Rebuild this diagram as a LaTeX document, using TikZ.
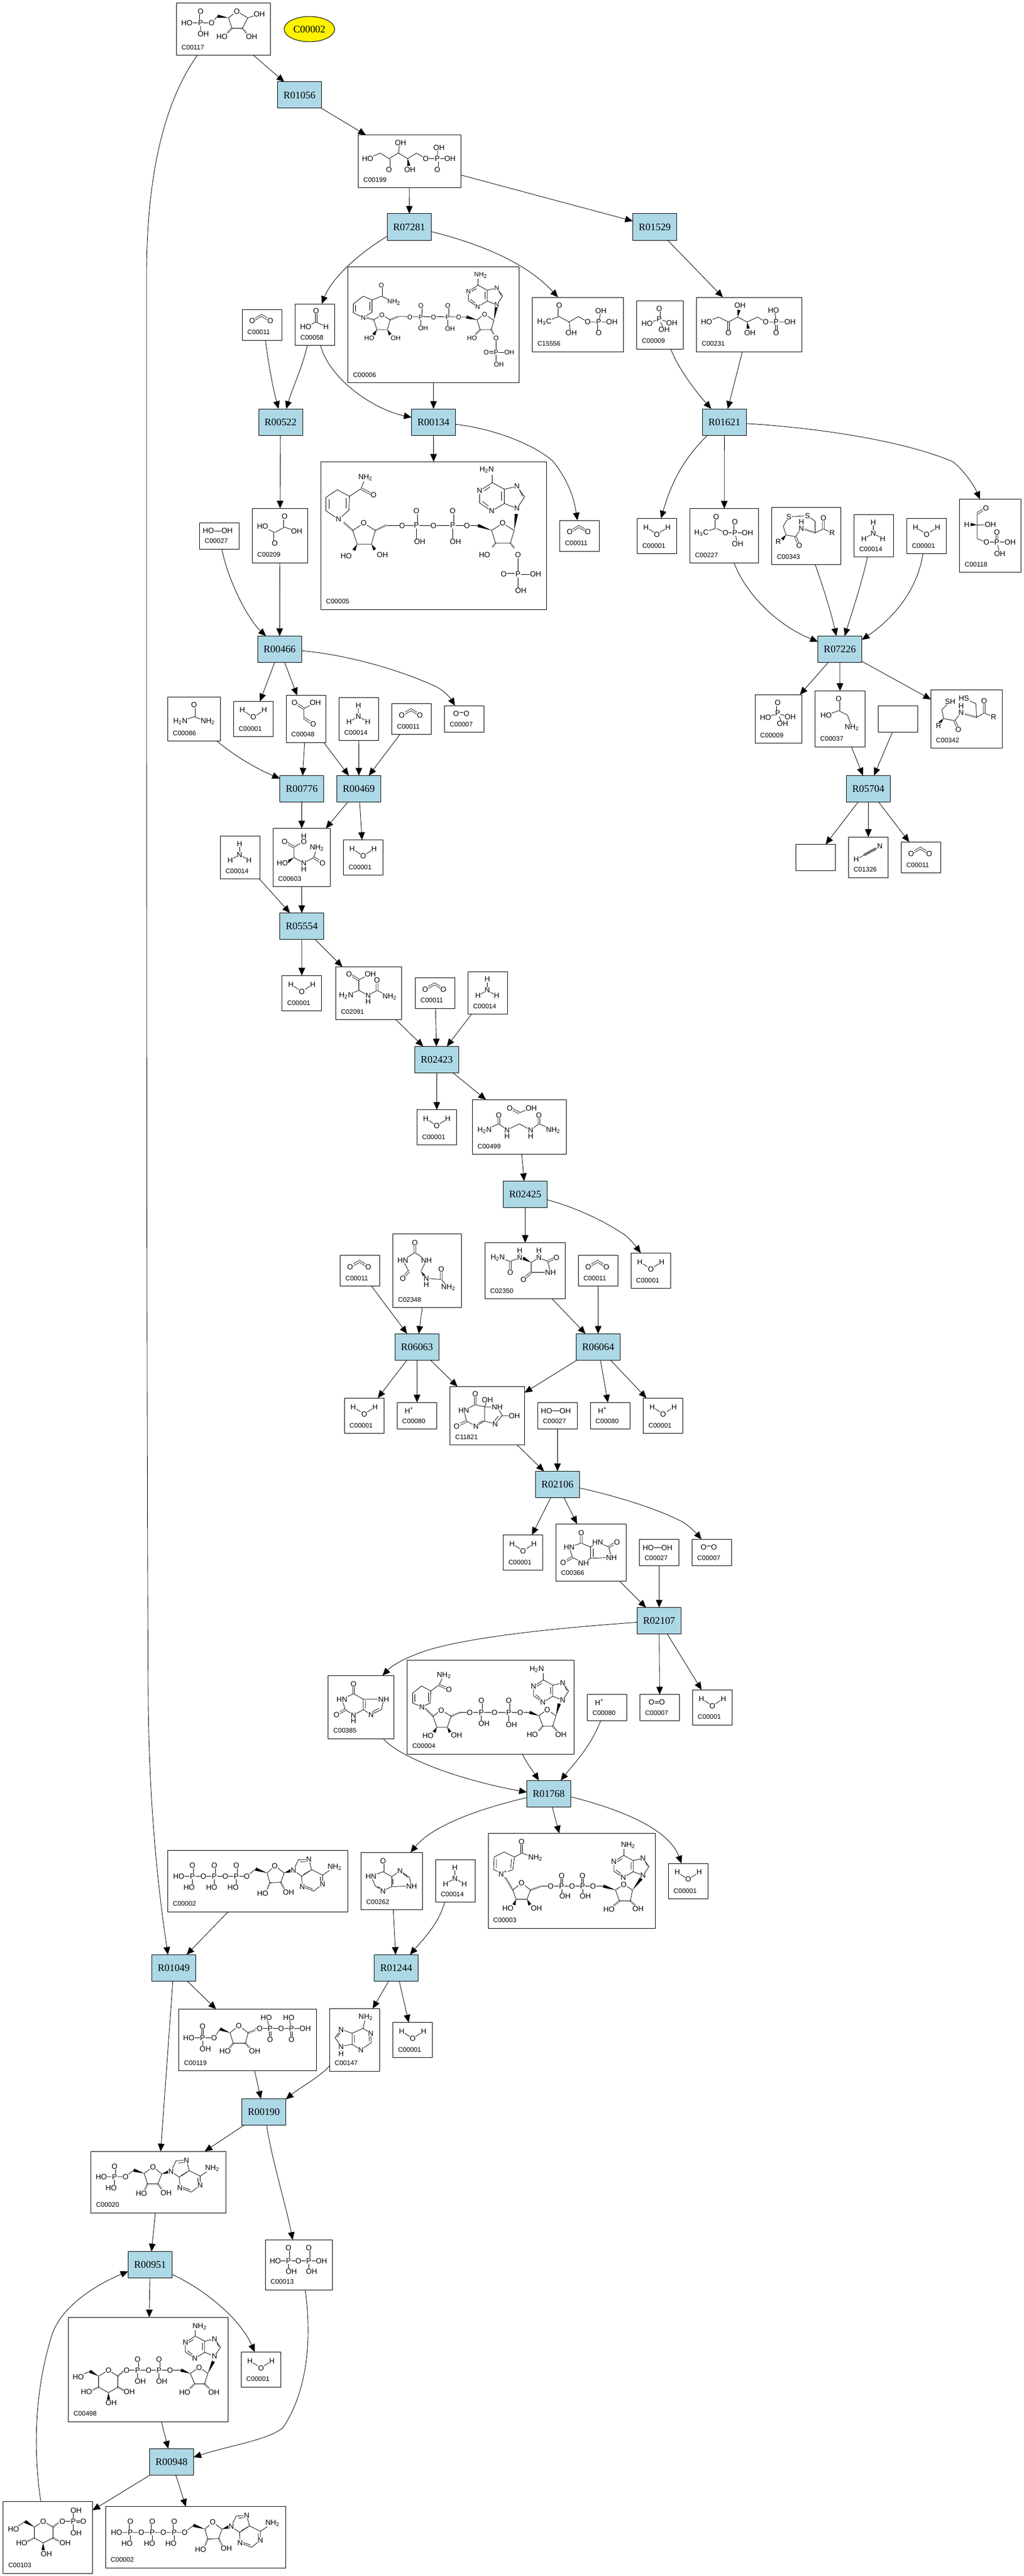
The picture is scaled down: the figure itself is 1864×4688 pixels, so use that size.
\documentclass[tikz,border=0pt]{standalone}
\usepackage{fontspec}
\setmainfont{Liberation Serif}
\setsansfont{Liberation Sans}
\usetikzlibrary{arrows.meta,shapes.geometric,calc}

\newcounter{atomno}
\newcommand{\atomsz}{6.8}
\tikzset{
	cpdbox/.style={draw,line width=.5pt,inner sep=0pt,outer sep=0pt},
	cname/.style={anchor=west,inner sep=0pt,font=\fontsize{6}{6}\selectfont\sffamily},
	rxnbox/.style={draw,fill=lightblue,line width=.5pt,inner sep=0pt,outer sep=0pt,minimum width=40pt,minimum height=24pt,font=\fontsize{9.2}{9.2}\selectfont\rmfamily},
	arr/.style={-{Triangle[length=7pt,width=6pt]},line width=.42pt},
	bond/.style={line width=.4pt},
	dbl/.style={double,double distance=1.2pt,line width=.4pt},
	hashb/.style={line width=1.6pt,dash pattern=on .35pt off .7pt},
	atom/.style={fill=white,inner sep=.3pt,font=\fontsize{\atomsz}{\atomsz}\selectfont\sffamily}
}
\definecolor{lightblue}{HTML}{ADD8E6}

% boxes, in pixels of the picture
\newcommand{\cpd}[6]{\node[cpdbox,minimum width={(#5-#3)*.5pt},minimum height={(#6-#4)*.5pt}] (#1) at ({(#3+#5)/2},{(#4+#6)/2}) {};
	\node[cname] (#1t) at (#3+9,#6-14.5) {#2};}
\newcommand{\blankcpd}[5]{\node[cpdbox,minimum width={(#4-#2)*.5pt},minimum height={(#5-#3)*.5pt}] (#1) at ({(#2+#4)/2},{(#3+#5)/2}) {};}
\newcommand{\rxn}[4]{\node[rxnbox] (#1) at (#3,#4) {#2};}
\newcommand{\mol}[2]{\begin{scope}[shift={(#1.north west)}]#2\end{scope}}

% pieces of a structure
\newcommand{\atm}[3]{\stepcounter{atomno}\node[atom] (at\theatomno) at (#1,#2) {#3};}
\newcommand{\wdg}[2]{\fill (#1) -- ($(#2)!1.5pt!90:(#1)$) -- ($(#2)!1.5pt!-90:(#1)$) -- cycle;}
\newcommand{\hsh}[2]{\draw[hashb] (#1) -- (#2);}
\newcommand{\pho}[6]{\draw[bond] (#1,#2)--(#1,#5); \draw[bond,dbl] (#1,#2)--(#1,#3); \atm{#4}{#5}{#6}\atm{#1}{#3}{O}\atm{#1}{#2}{P}}
\newcommand{\adenup}[3]{\begin{scope}[shift={(#1,#2)},scale=#3]
	\draw[bond] (0,0)--(-23,15)--(-23,37)--(-1,52)--(22,38)--(22,12)--cycle (22,12)--(45,7)--(59,26)--(45,47)--(22,38);
	\draw[bond] (-4,8)--(-15,15) (17,16)--(17,33) (-18,34)--(-7,43) (50,13)--(55,25);
	\atm{-23}{15}{N}\atm{-1}{52}{N}\atm{45}{7}{N}\atm{45}{47}{N}
	\end{scope}}
\newcommand{\adenside}[2]{\begin{scope}[shift={(#1,#2)}]
	\draw[bond] (0,0)--(9,-19)--(28,-20)--(33,-1)--(15,11)--cycle (33,-1)--(53,9)--(53,25)--(37,38)--(16,30)--(15,11) (53,9)--(75,-6);
	\draw[bond] (13,-15)--(25,-16) (18,8)--(30,1) (49,12)--(49,22) (21,29)--(35,34);
	\atm{0}{0}{N}\atm{28}{-20}{N}\atm{53}{25}{N}\atm{16}{30}{N}\atm{75}{-6}{NH\textsubscript{2}}
	\end{scope}}

% structures that come back
\newcommand{\molwater}{\draw[bond] (16,16)--(36,29)--(56,16); \atm{16}{16}{H}\atm{36}{29}{O}\atm{56}{16}{H}}
\newcommand{\molcotwo}{\draw[bond,dbl] (18,21)--(35,11)--(51,21); \atm{18}{21}{O}\atm{51}{21}{O}}
\newcommand{\molammonia}{\draw[bond] (35,14)--(35,34) (18,44)--(35,34)--(52,44); \atm{35}{14}{H}\atm{35}{34}{N}\atm{18}{44}{H}\atm{52}{44}{H}}
\newcommand{\molperox}{\draw[bond] (15,15)--(49,15); \atm{16}{15}{HO}\atm{50}{15}{OH}}
\newcommand{\moloxy}{\draw[bond,dbl] (21,14)--(40,14); \atm{21}{14}{O}\atm{40}{14}{O}}
\newcommand{\molproton}{\atm{22}{14}{H\textsuperscript{+}}}
\newcommand{\molphos}{\draw[bond] (19,42)--(41,34)--(64,41) (41,34)--(50,53); \draw[bond,dbl] (41,15)--(41,34);
	\atm{41}{15}{O}\atm{41}{34}{P}\atm{19}{42}{HO}\atm{64}{41}{OH}\atm{50}{53}{OH}}
\newcommand{\molatp}{\draw[bond] (20,47)--(144,47)--(160,34);
	\pho{45}{47}{27}{39}{67}{HO}\pho{85}{47}{27}{80}{67}{HO}\pho{125}{47}{27}{119}{67}{HO}
	\wdg{181,41}{160,34}
	\draw[bond] (195,28)--(181,41)--(186,59)--(206,58)--(212,41)--cycle;
	\wdg{212,41}{224,37}\hsh{186,59}{181,71}\hsh{206,58}{212,70}
	\atm{20}{47}{HO}\atm{65}{47}{O}\atm{105}{47}{O}\atm{144}{47}{O}\atm{195}{28}{O}\atm{173}{78}{HO}\atm{220}{76}{OH}
	\adenside{229}{36}}

\begin{document}
\begin{tikzpicture}[x=.5pt,y=-.5pt]
	\useasboundingbox (0,0) rectangle (1864,4688);

	% reactions
	\rxn{r01056}{R01056}{545.5}{173}
	\rxn{r07281}{R07281}{745.3}{413}
	\rxn{r01529}{R01529}{1192.5}{413}
	\rxn{r00522}{R00522}{511}{768}
	\rxn{r00134}{R00134}{789.5}{768}
	\rxn{r01621}{R01621}{1319.4}{768}
	\rxn{r00466}{R00466}{509.3}{1181.5}
	\rxn{r07226}{R07226}{1529.6}{1181.4}
	\rxn{r05704}{R05704}{1581.5}{1435.3}
	\rxn{r00776}{R00776}{549.7}{1435.5}
	\rxn{r00469}{R00469}{653.5}{1435.5}
	\rxn{r05554}{R05554}{549.7}{1685.5}
	\rxn{r02423}{R02423}{795.5}{1928.4}
	\rxn{r02425}{R02425}{956.6}{2173.4}
	\rxn{r06063}{R06063}{759.5}{2451.3}
	\rxn{r06064}{R06064}{1089.4}{2451.3}
	\rxn{r02106}{R02106}{1015.3}{2701.4}
	\rxn{r02107}{R02107}{1200.5}{2949.6}
	\rxn{r01768}{R01768}{999.5}{3264.3}
	\rxn{r01049}{R01049}{316.5}{3581.4}
	\rxn{r01244}{R01244}{721.7}{3581.4}
	\rxn{r00190}{R00190}{480.5}{3843.6}
	\rxn{r00951}{R00951}{273.5}{4121.3}
	\rxn{r00948}{R00948}{312.5}{4480.3}

	\node[ellipse,draw,fill=yellow,line width=.5pt,inner sep=0pt,minimum width=46pt,minimum height=23pt,font=\fontsize{9.2}{9.2}\selectfont\rmfamily] (c00002o) at (563.5,53) {C00002};

	% water
	\cpd{c00001a}{C00001}{1160.4}{943.4}{1232.6}{1007.6}
	\cpd{c00001b}{C00001}{1651.6}{943.4}{1723.8}{1007.6}
	\cpd{c00001c}{C00001}{425.4}{1276.3}{497.3}{1340.6}
	\cpd{c00001d}{C00001}{625.4}{1528.6}{697.3}{1592.4}
	\cpd{c00001e}{C00001}{513.7}{1775.4}{585.6}{1839.7}
	\cpd{c00001f}{C00001}{759.5}{2019.6}{831.4}{2083.5}
	\cpd{c00001g}{C00001}{1149.3}{2280.4}{1221.7}{2344.6}
	\cpd{c00001h}{C00001}{627.3}{2544.3}{699.3}{2608.6}
	\cpd{c00001i}{C00001}{1171.7}{2544.3}{1243.7}{2608.6}
	\cpd{c00001j}{C00001}{916.6}{2793.4}{988.6}{2857.7}
	\cpd{c00001k}{C00001}{1261.5}{3075.3}{1333.5}{3139.3}
	\cpd{c00001l}{C00001}{1217.5}{3391.2}{1289.5}{3455.5}
	\cpd{c00001m}{C00001}{715.6}{3680.6}{787.7}{3744.5}
	\cpd{c00001n}{C00001}{439.3}{4280.3}{511.6}{4344.3}
	\mol{c00001a}{\molwater}\mol{c00001b}{\molwater}\mol{c00001c}{\molwater}\mol{c00001d}{\molwater}
	\mol{c00001e}{\molwater}\mol{c00001f}{\molwater}\mol{c00001g}{\molwater}\mol{c00001h}{\molwater}
	\mol{c00001i}{\molwater}\mol{c00001j}{\molwater}\mol{c00001k}{\molwater}\mol{c00001l}{\molwater}
	\mol{c00001m}{\molwater}\mol{c00001n}{\molwater}

	% CO2
	\cpd{c00011a}{C00011}{441.3}{563}{513.6}{619}
	\cpd{c00011b}{C00011}{1019.6}{947}{1091.6}{1003.3}
	\cpd{c00011c}{C00011}{713.7}{1280.4}{785.6}{1336.6}
	\cpd{c00011d}{C00011}{1641.4}{1532.4}{1713.5}{1588.4}
	\cpd{c00011e}{C00011}{756.5}{1779.5}{828.5}{1835.3}
	\cpd{c00011f}{C00011}{619.7}{2284.4}{691.6}{2340.6}
	\cpd{c00011g}{C00011}{1053.4}{2284.4}{1125.3}{2340.6}
	\mol{c00011a}{\molcotwo}\mol{c00011b}{\molcotwo}\mol{c00011c}{\molcotwo}\mol{c00011d}{\molcotwo}
	\mol{c00011e}{\molcotwo}\mol{c00011f}{\molcotwo}\mol{c00011g}{\molcotwo}

	% ammonia
	\cpd{c00014a}{C00014}{1555.6}{936.5}{1627.8}{1013.6}
	\cpd{c00014b}{C00014}{617.8}{1269.6}{689.7}{1347.8}
	\cpd{c00014c}{C00014}{401.4}{1521.4}{473.4}{1599.6}
	\cpd{c00014d}{C00014}{852.4}{1768.3}{924.4}{1845.5}
	\cpd{c00014e}{C00014}{793.4}{3384.3}{865.5}{3461.6}
	\mol{c00014a}{\molammonia}\mol{c00014b}{\molammonia}\mol{c00014c}{\molammonia}\mol{c00014d}{\molammonia}\mol{c00014e}{\molammonia}

	% peroxide, oxygen, proton
	\cpd{c00027a}{C00027}{363.5}{951.3}{435.3}{999.3}
	\cpd{c00027b}{C00027}{979.4}{2552.3}{1051.3}{2600.5}
	\cpd{c00027c}{C00027}{1164.6}{2801.4}{1236.5}{2849.6}
	\mol{c00027a}{\molperox}\mol{c00027b}{\molperox}\mol{c00027c}{\molperox}
	\cpd{c00007a}{C00007}{809.6}{1284.4}{881.5}{1332.6}
	\cpd{c00007b}{C00007}{1260.5}{2801.4}{1332.4}{2849.6}
	\cpd{c00007c}{C00007}{1165.6}{3083.7}{1237.6}{3131.7}
	\mol{c00007a}{\moloxy}\mol{c00007b}{\moloxy}\mol{c00007c}{\moloxy}
	\cpd{c00080a}{C00080}{723.3}{2552.3}{795.7}{2600.5}
	\cpd{c00080b}{C00080}{1075.3}{2552.3}{1147.3}{2600.5}
	\cpd{c00080c}{C00080}{1069.7}{3083.7}{1141.6}{3131.7}
	\mol{c00080a}{\molproton}\mol{c00080b}{\molproton}\mol{c00080c}{\molproton}

	% phosphate
	\cpd{c00009a}{C00009}{1159.6}{547}{1244.5}{635}
	\cpd{c00009b}{C00009}{1375.3}{1264.3}{1460.6}{1352.5}
	\mol{c00009a}{\molphos}\mol{c00009b}{\molphos}

	% empty boxes
	\blankcpd{blanka}{1599.5}{1284.5}{1671.6}{1332.7}
	\blankcpd{blankb}{1449.4}{1536.6}{1521.5}{1584.3}

	% the other compounds
	\cpd{c00117}{C00117}{321.3}{5.5}{492.4}{101}
	\mol{c00117}{
		\draw[bond] (19,36)--(64,36)--(75,24) (44,36)--(44,56)--(49,56);
		\draw[bond,dbl] (44,15)--(44,36);
		\wdg{95,27}{75,24}
		\draw[bond] (110,15)--(95,27)--(101,46)--(120,46)--(130,27)--cycle (130,27)--(151,20);
		\hsh{101,46}{92,55}\hsh{120,46}{128,55}
		\atm{19}{36}{HO}\atm{44}{36}{P}\atm{44}{15}{O}\atm{64}{36}{O}\atm{49}{56}{OH}\atm{110}{15}{O}\atm{151}{20}{OH}\atm{83}{61}{HO}\atm{137}{61}{OH}
	}
	\cpd{c00199}{C00199}{652.5}{245.6}{839.7}{341.6}
	\mol{c00199}{
		\draw[bond] (17,43)--(40,33)--(56,43)--(73,33)--(90,43)--(106,33)--(123,43)--(167,43) (144,43)--(145,23)--(147,23);
		\draw[bond,dbl] (56,43)--(56,63) (144,43)--(144,63);
		\hsh{73,33}{75,20}\wdg{90,43}{92,56}
		\atm{17}{43}{HO}\atm{56}{63}{O}\atm{77}{14}{OH}\atm{94}{63}{OH}\atm{123}{43}{O}\atm{144}{43}{P}\atm{147}{23}{OH}\atm{167}{43}{OH}\atm{144}{63}{O}
	}
	\cpd{c00231}{C00231}{1268.7}{541}{1460.6}{640}
	\mol{c00231}{
		\draw[bond] (18,45)--(40,36)--(58,45)--(75,36)--(92,45)--(111,36)--(126,45)--(170,45) (145,45)--(142,24);
		\draw[bond,dbl] (58,45)--(58,65) (145,45)--(145,65);
		\wdg{75,36}{77,23}\wdg{92,45}{94,57}
		\atm{18}{45}{HO}\atm{58}{65}{O}\atm{79}{15}{OH}\atm{97}{65}{OH}\atm{126}{45}{O}\atm{145}{45}{P}\atm{140}{24}{HO}\atm{170}{45}{OH}\atm{145}{65}{O}
	}
	\cpd{c15556}{C15556}{969.4}{541}{1135}{640}
	\mol{c15556}{
		\draw[bond] (22,45)--(49,35)--(67,45)--(84,35)--(101,45)--(145,45) (67,45)--(70,65) (121,45)--(125,25);
		\draw[bond,dbl] (49,35)--(49,15) (121,45)--(121,65);
		\atm{22}{45}{H\textsubscript{3}C}\atm{49}{15}{O}\atm{71}{65}{OH}\atm{101}{45}{O}\atm{121}{45}{P}\atm{125}{25}{OH}\atm{145}{45}{OH}\atm{121}{65}{O}
	}
	\cpd{c00058}{C00058}{537.7}{553}{609.5}{628.5}
	\mol{c00058}{
		\draw[bond] (19,42)--(38,33)--(56,42);
		\draw[bond,dbl] (38,13)--(38,33);
		\atm{38}{13}{O}\atm{19}{42}{HO}\atm{56}{42}{H}
	}
	\cpd{c00006}{C00006}{633.6}{485}{945.3}{696.5}
	\mol{c00006}{
		\def\atomsz{6}
		\draw[bond] (28,93)--(10,84)--(10,68)--(28,54)--(44,61)--(44,83)--cycle (44,61)--(61,54)--(84,65) (14,82)--(14,70) (40,64)--(40,80);
		\draw[bond,dbl] (61,54)--(61,34);
		\hsh{47,97}{33,93}
		\draw[bond] (62,88)--(47,97)--(53,115)--(72,115)--(77,97)--cycle;
		\wdg{53,115}{47,124}\wdg{72,115}{77,124}\hsh{77,97}{92,91}
		\draw[bond] (92,91)--(218,92);
		\pho{133}{92}{71}{137}{112}{OH}\pho{182}{92}{71}{186}{113}{OH}
		\wdg{235,97}{216,92}
		\draw[bond] (249,87)--(235,97)--(241,115)--(261,115)--(266,98)--cycle;
		\wdg{266,98}{271,70}\hsh{241,115}{232,124}\hsh{261,115}{266,124}
		\draw[bond] (270,130)--(270,178)--(275,178) (270,156)--(294,156) (237,34)--(237,22);
		\draw[bond,dbl] (252,156)--(270,156);
		\adenup{237}{34}{.76}
		\atm{28}{93}{N}\atm{61}{34}{O}\atm{84}{65}{NH\textsubscript{2}}\atm{62}{88}{O}\atm{39}{130}{HO}\atm{87}{130}{OH}\atm{113}{92}{O}\atm{156}{92}{O}\atm{202}{92}{O}\atm{249}{87}{O}
		\atm{226}{130}{HO}\atm{270}{130}{O}\atm{270}{156}{P}\atm{252}{156}{O}\atm{294}{156}{OH}\atm{275}{178}{OH}\atm{242}{16}{NH\textsubscript{2}}
	}
	\cpd{c00005}{C00005}{584.5}{840.3}{995.5}{1109.3}
	\mol{c00005}{
		\draw[bond] (32,105)--(9,89)--(9,65)--(30,51)--(52,63)--(51,88)--cycle (52,63)--(73,49)--(81,29) (15,86)--(15,68) (46,66)--(46,85);
		\draw[bond,dbl] (73,49)--(96,61);
		\hsh{58,125}{41,110}
		\draw[bond] (78,112)--(58,125)--(66,150)--(92,150)--(99,125)--cycle;
		\wdg{66,150}{60,161}\wdg{92,150}{98,160}\hsh{99,125}{120,115}
		\draw[bond] (120,116)--(286,116);
		\pho{174}{116}{90}{180}{146}{OH}\pho{240}{116}{90}{245}{146}{OH}
		\wdg{311,125}{286,116}
		\draw[bond] (331,112)--(311,125)--(318,148)--(345,148)--(352,125)--cycle;
		\wdg{352,125}{356,95}\hsh{318,148}{312,156}\hsh{345,148}{352,157}
		\draw[bond] (359,170)--(359,235)--(364,235) (359,205)--(391,205) (312,38)--(312,24);
		\draw[bond,dbl] (333,205)--(359,205);
		\adenup{312}{38}{1}
		\atm{32}{105}{N}\atm{81}{29}{NH\textsubscript{2}}\atm{96}{61}{O}\atm{78}{112}{O}\atm{46}{172}{HO}\atm{112}{170}{OH}\atm{148}{117}{O}\atm{205}{117}{O}\atm{266}{117}{O}\atm{331}{112}{O}
		\atm{298}{170}{HO}\atm{359}{170}{O}\atm{359}{205}{P}\atm{333}{205}{O}\atm{391}{205}{OH}\atm{364}{235}{OH}\atm{302}{15}{H\textsubscript{2}N}
	}
	\cpd{c00209}{C00209}{459.3}{925.3}{560.3}{1024.3}
	\mol{c00209}{
		\draw[bond] (19,33)--(41,44)--(59,34)--(81,42);
		\draw[bond,dbl] (41,44)--(41,64) (59,34)--(59,15);
		\atm{19}{33}{HO}\atm{41}{64}{O}\atm{59}{15}{O}\atm{81}{42}{OH}
	}
	\cpd{c00227}{C00227}{1256.4}{925.5}{1381.7}{1024.6}
	\mol{c00227}{
		\draw[bond] (21,44)--(48,36)--(65,44)--(105,44) (82,44)--(87,64);
		\draw[bond,dbl] (48,36)--(48,15) (82,44)--(82,24);
		\atm{21}{44}{H\textsubscript{3}C}\atm{48}{15}{O}\atm{65}{44}{O}\atm{82}{44}{P}\atm{82}{24}{O}\atm{105}{44}{OH}\atm{87}{64}{OH}
	}
	\cpd{c00343}{C00343}{1405.6}{923.6}{1531.8}{1027.4}
	\mol{c00343}{
		\draw[bond] (65,15)--(31,17)--(21,34)--(26,50)--(43,53)--(54,38) (65,15)--(79,25)--(79,46)--(94,39)--(110,46);
		\draw[bond,dbl] (43,53)--(50,69) (94,39)--(94,19);
		\wdg{26,50}{19,58}\hsh{79,46}{60,40}
		\atm{31}{17}{S}\atm{65}{15}{S}\atm{12}{62}{R}\atm{50}{69}{O}\atm{54}{38}{N}\atm{54}{26}{H}\atm{94}{19}{O}\atm{110}{46}{R}
	}
	\cpd{c00118}{C00118}{1747.7}{908.5}{1859.7}{1041.6}
	\mol{c00118}{
		\draw[bond] (32,26)--(32,72)--(49,78)--(92,78) (68,78)--(73,99) (32,47)--(56,46);
		\draw[bond,dbl] (32,26)--(48,16) (68,78)--(68,60);
		\wdg{32,47}{20,46}
		\atm{48}{16}{O}\atm{13}{46}{H}\atm{56}{46}{OH}\atm{49}{78}{O}\atm{68}{78}{P}\atm{68}{60}{O}\atm{92}{78}{OH}\atm{73}{99}{OH}
	}
	\cpd{c00037}{C00037}{1484.5}{1257.4}{1575.6}{1359.3}
	\mol{c00037}{
		\draw[bond] (20,44)--(43,36)--(59,44)--(67,66);
		\draw[bond,dbl] (43,36)--(43,14);
		\atm{43}{14}{O}\atm{20}{44}{HO}\atm{67}{66}{NH\textsubscript{2}}
	}
	\cpd{c00342}{C00342}{1695.5}{1255.6}{1825.6}{1361.6}
	\mol{c00342}{
		\draw[bond] (35,21)--(20,36)--(23,52)--(43,56)--(55,41) (60,15)--(82,25)--(83,50)--(97,42)--(114,49);
		\draw[bond,dbl] (43,56)--(50,72) (97,42)--(97,20);
		\wdg{23,52}{16,60}\hsh{83,50}{62,44}
		\atm{35}{21}{SH}\atm{14}{65}{R}\atm{50}{72}{O}\atm{55}{41}{N}\atm{55}{29}{H}\atm{60}{15}{HS}\atm{97}{20}{O}\atm{114}{49}{R}
	}
	\cpd{c01326}{C01326}{1545.4}{1523.2}{1617.5}{1597}
	\mol{c01326}{
		\draw[bond] (14,41)--(57,17);
		\draw[bond,dbl] (28,33)--(50,21);
		\draw[bond] (28,33)--(50,21);
		\atm{57}{17}{N}\atm{14}{41}{H}
	}
	\cpd{c00048}{C00048}{521.3}{1265.6}{593.3}{1351.3}
	\mol{c00048}{
		\draw[bond] (32,24)--(53,13) (32,24)--(32,41);
		\draw[bond,dbl] (15,13)--(32,24) (32,41)--(49,52);
		\atm{15}{13}{O}\atm{53}{13}{OH}\atm{49}{52}{O}
	}
	\cpd{c00086}{C00086}{305.5}{1268.3}{401.4}{1348.7}
	\mol{c00086}{
		\draw[bond] (23,45)--(48,36)--(73,45);
		\draw[bond,dbl] (48,36)--(48,15);
		\atm{48}{15}{O}\atm{23}{45}{H\textsubscript{2}N}\atm{73}{45}{NH\textsubscript{2}}
	}
	\cpd{c00603}{C00603}{497.3}{1507.6}{601.4}{1613.4}
	\mol{c00603}{
		\draw[bond] (56,14)--(56,24)--(38,34)--(38,53)--(56,63)--(74,53)--(80,35) (56,63)--(56,74);
		\draw[bond,dbl] (21,24)--(38,34) (74,53)--(90,63);
		\wdg{38,53}{26,61}
		\atm{56}{14}{H}\atm{56}{24}{O}\atm{21}{24}{O}\atm{17}{63}{HO}\atm{56}{63}{N}\atm{56}{74}{H}\atm{80}{35}{NH\textsubscript{2}}\atm{90}{63}{O}
	}
	\cpd{c02091}{C02091}{611.6}{1759.4}{731.5}{1855.4}
	\mol{c02091}{
		\draw[bond] (63,13)--(42,24)--(42,43)--(19,52) (42,43)--(59,52)--(75,43)--(98,54) (59,52)--(59,63);
		\draw[bond,dbl] (24,13)--(42,24) (75,43)--(75,24);
		\atm{24}{13}{O}\atm{63}{13}{OH}\atm{19}{52}{H\textsubscript{2}N}\atm{59}{52}{N}\atm{59}{63}{H}\atm{75}{24}{O}\atm{98}{54}{NH\textsubscript{2}}
	}
	\cpd{c00499}{C00499}{860.5}{2001.3}{1031.4}{2100.4}
	\mol{c00499}{
		\draw[bond] (22,55)--(48,44)--(63,55)--(85,44)--(106,55)--(121,44)--(147,55) (85,24)--(107,15) (63,55)--(63,66) (106,55)--(106,66);
		\draw[bond,dbl] (48,44)--(48,28) (121,44)--(121,28) (68,15)--(85,24);
		\atm{22}{55}{H\textsubscript{2}N}\atm{48}{28}{O}\atm{63}{55}{N}\atm{63}{66}{H}\atm{106}{55}{N}\atm{106}{66}{H}\atm{121}{28}{O}\atm{147}{55}{NH\textsubscript{2}}\atm{68}{15}{O}\atm{107}{15}{OH}
	}
	\cpd{c02350}{C02350}{883.5}{2261.6}{1029.4}{2363.4}
	\mol{c02350}{
		\draw[bond] (23,27)--(46,34)--(63,27)--(63,14) (84,36)--(98,27)--(114,34)--(119,54)--(84,54)--cycle (98,27)--(98,14);
		\draw[bond,dbl] (46,34)--(46,54) (114,34)--(130,27) (84,54)--(70,67);
		\wdg{84,36}{69,28}
		\atm{23}{27}{H\textsubscript{2}N}\atm{46}{54}{O}\atm{63}{27}{N}\atm{63}{14}{H}\atm{98}{27}{N}\atm{98}{14}{H}\atm{130}{27}{O}\atm{119}{54}{NH}\atm{70}{67}{O}
	}
	\cpd{c02348}{C02348}{715.6}{2245.5}{840.6}{2379.5}
	\mol{c02348}{
		\draw[bond] (18,48)--(40,34)--(61,48)--(51,68) (18,48)--(29,68) (61,81)--(88,83)--(101,97) (61,81)--(61,92);
		\draw[bond,dbl] (40,34)--(40,16) (29,68)--(18,81) (88,83)--(88,64);
		\wdg{51,68}{59,79}
		\atm{40}{16}{O}\atm{18}{48}{HN}\atm{61}{48}{NH}\atm{18}{81}{O}\atm{61}{81}{N}\atm{61}{92}{H}\atm{88}{64}{O}\atm{101}{97}{NH\textsubscript{2}}
	}
	\cpd{c11821}{C11821}{819.7}{2523.3}{955.4}{2629.6}
	\mol{c11821}{
		\draw[bond] (46,33)--(25,43)--(30,63)--(47,72)--(63,63)--(63,37)--cycle (63,37)--(86,37)--(95,53)--(82,68)--(63,63) (63,37)--(68,24) (95,53)--(117,53) (50,68)--(60,62) (88,54)--(81,62);
		\draw[bond,dbl] (46,33)--(46,13) (30,63)--(12,72);
		\atm{46}{13}{O}\atm{68}{24}{OH}\atm{25}{43}{HN}\atm{86}{37}{NH}\atm{117}{53}{OH}\atm{12}{72}{O}\atm{47}{72}{N}\atm{82}{68}{N}
	}
	\cpd{c00366}{C00366}{1012.6}{2773.3}{1140.6}{2877.3}
	\mol{c00366}{
		\draw[bond] (46,35)--(24,42)--(30,61)--(50,71)--(63,62.5)--(63,42)--cycle (63,42)--(76,33)--(96,42)--(101,61)--(63,62.5) (68,45)--(68,60);
		\draw[bond,dbl] (46,35)--(46,16) (30,61)--(13,70) (96,42)--(111,33);
		\atm{46}{16}{O}\atm{24}{42}{HN}\atm{13}{70}{O}\atm{50}{71}{NH}\atm{76}{33}{HN}\atm{111}{33}{O}\atm{101}{61}{NH}
	}
	\cpd{c00385}{C00385}{597.8}{3049.3}{717.7}{3164.3}
	\mol{c00385}{
		\draw[bond] (46,33)--(25,43)--(31,62)--(46,72)--(64,62)--(64,43)--cycle (64,43)--(101,43)--(97,62)--(78,71)--(64,62) (46,72)--(46,82) (68,45)--(68,60) (92,60)--(80,66);
		\draw[bond,dbl] (46,33)--(46,15) (31,62)--(15,71);
		\atm{46}{15}{O}\atm{25}{43}{HN}\atm{101}{43}{NH}\atm{15}{71}{O}\atm{46}{72}{N}\atm{46}{82}{H}\atm{78}{71}{N}
	}
	\cpd{c00004}{C00004}{741.6}{3021.3}{1045.7}{3192.3}
	\mol{c00004}{
		\draw[bond] (27,85)--(10,78)--(10,60)--(26,47)--(43,56)--(42,78)--cycle (43,56)--(58,45)--(67,27) (14,76)--(14,62) (39,59)--(39,76);
		\draw[bond,dbl] (58,45)--(76,53);
		\hsh{47,102}{33,88}
		\draw[bond] (62,91)--(47,102)--(54,122)--(73,122)--(80,102)--cycle;
		\wdg{54,122}{49,131}\wdg{73,122}{78,131}\hsh{80,102}{96,95}
		\draw[bond] (96,95)--(223,95);
		\pho{135}{95}{73}{140}{115}{OH}\pho{185}{95}{73}{190}{117}{OH}
		\wdg{240,101}{223,95}
		\draw[bond] (255,90)--(240,101)--(247,120)--(265,120)--(271,101)--cycle;
		\wdg{271,101}{277,79}\hsh{247,120}{239,129}\hsh{265,120}{273,129}
		\draw[bond] (248,36)--(248,24);
		\adenup{248}{36}{.78}
		\atm{27}{85}{N}\atm{67}{27}{NH\textsubscript{2}}\atm{76}{53}{O}\atm{62}{91}{O}\atm{38}{137}{HO}\atm{90}{136}{OH}\atm{114}{95}{O}\atm{159}{95}{O}\atm{206}{95}{O}\atm{255}{90}{O}\atm{228}{135}{HO}\atm{280}{135}{OH}\atm{236}{16}{H\textsubscript{2}N}
	}
	\cpd{c00003}{C00003}{889}{3336.5}{1193.3}{3509.1}
	\mol{c00003}{
		\draw[bond] (27,73)--(10,66)--(11,43)--(29,34)--(48,43)--(45,66)--cycle (48,43)--(61,36)--(86,44) (15,63)--(15,46) (43,46)--(41,63);
		\draw[bond,dbl] (61,36)--(61,15);
		\hsh{45,103}{30,78}
		\draw[bond] (61,90)--(45,103)--(51,120)--(71,120)--(77,103)--cycle;
		\wdg{51,120}{47,130}\wdg{71,120}{76,130}\hsh{77,103}{97,96}
		\draw[bond] (97,96)--(210,96);
		\pho{134}{96}{77}{140}{114}{OH}\pho{172}{96}{77}{177}{114}{OH}
		\wdg{232,103}{210,96}
		\draw[bond] (247,93)--(232,103)--(239,123)--(259,123)--(263,103)--cycle;
		\wdg{263,103}{279,82}\hsh{239,123}{228,132}\hsh{259,123}{268,131}
		\draw[bond] (247,40)--(247,28);
		\adenup{247}{40}{.78}
		\atm{27}{73}{N\textsuperscript{+}}\atm{61}{15}{O}\atm{86}{44}{NH\textsubscript{2}}\atm{61}{90}{O}\atm{36}{136}{HO}\atm{88}{136}{OH}\atm{114}{96}{O}\atm{153}{96}{O}\atm{191}{96}{O}\atm{247}{93}{O}\atm{220}{138}{HO}\atm{273}{137}{OH}\atm{255}{21}{NH\textsubscript{2}}
	}
	\cpd{c00262}{C00262}{657.6}{3371.3}{769.8}{3475.8}
	\mol{c00262}{
		\draw[bond] (40,35)--(18,43)--(26,61)--(40,70)--(56,62)--(56,44)--cycle (56,44)--(71,33)--(88,45)--(92,61)--(56,62) (30,62)--(38,66) (58,48)--(58,58);
		\draw[bond] (74,37)--(85,45);
		\draw[bond,dbl] (40,35)--(40,15);
		\atm{40}{15}{O}\atm{18}{43}{HN}\atm{40}{70}{N}\atm{71}{33}{N}\atm{92}{61}{NH}
	}
	\cpd{c00147}{C00147}{600.2}{3655.3}{691.3}{3769.3}
	\mol{c00147}{
		\draw[bond] (61,36)--(75,45)--(76,62)--(57,75)--(41,65)--(41,45)--cycle (41,45)--(21,38)--(10,53)--(21,69)--(41,65) (61,36)--(66,15) (21,69)--(21,82) (45,48)--(45,62) (72,48)--(72,60) (14,52)--(21,42);
		\atm{66}{15}{NH\textsubscript{2}}\atm{75}{45}{N}\atm{57}{75}{N}\atm{21}{38}{N}\atm{21}{69}{N}\atm{21}{82}{H}
	}
	\cpd{c00002a}{C00002}{305.5}{3367.5}{633.3}{3479.3}
	\cpd{c00002b}{C00002}{192.3}{4561.7}{520.4}{4673.3}
	\mol{c00002a}{\molatp}\mol{c00002b}{\molatp}
	\cpd{c00119}{C00119}{325.9}{3656.4}{576.6}{3768.6}
	\mol{c00119}{
		\draw[bond] (18,52)--(64,52)--(75,36);
		\pho{43}{52}{31}{48}{72}{OH}
		\wdg{93,43}{75,36}
		\draw[bond] (109,30)--(93,43)--(99,62)--(121,62)--(126,43)--cycle;
		\hsh{99,62}{91,72}\hsh{121,62}{130,72}\hsh{126,43}{139,38}
		\draw[bond] (139,35)--(230,35);
		\draw[bond] (166,35)--(159,15) (205,35)--(200,15);
		\draw[bond,dbl] (166,35)--(166,55) (205,35)--(205,55);
		\atm{18}{52}{HO}\atm{64}{52}{O}\atm{109}{30}{O}\atm{84}{76}{HO}\atm{138}{76}{OH}\atm{147}{35}{O}\atm{166}{35}{P}\atm{159}{15}{HO}\atm{166}{55}{O}\atm{186}{35}{O}\atm{205}{35}{P}\atm{200}{15}{HO}\atm{205}{55}{O}\atm{230}{35}{OH}
	}
	\cpd{c00020}{C00020}{165.6}{3915.3}{411.6}{4027.3}
	\mol{c00020}{
		\draw[bond] (19,46)--(63,46)--(78,34);
		\pho{43}{46}{27}{37}{66}{HO}
		\wdg{97,40}{78,34}
		\draw[bond] (113,28)--(97,40)--(103,59)--(122,59)--(129,41)--cycle;
		\wdg{129,41}{142,37}\hsh{103,59}{98,70}\hsh{122,59}{129,69}
		\atm{19}{46}{HO}\atm{63}{46}{O}\atm{113}{28}{O}\atm{92}{76}{HO}\atm{137}{75}{OH}
		\adenside{146}{36}
	}
	\cpd{c00013}{C00013}{483.5}{4076.3}{605.4}{4167.3}
	\mol{c00013}{
		\draw[bond] (18,38)--(102,38);
		\pho{42}{38}{14}{47}{57}{OH}\pho{79}{38}{14}{84}{57}{OH}
		\atm{18}{38}{HO}\atm{60}{38}{O}\atm{102}{38}{OH}
	}
	\cpd{c00498}{C00498}{124.6}{4217.3}{415.4}{4407.3}
	\mol{c00498}{
		\draw[bond] (18,108)--(39,98);
		\wdg{55,107}{39,98}
		\draw[bond] (73,96)--(55,107)--(55,127)--(73,137)--(90,127)--(90,107)--cycle;
		\hsh{55,127}{42,133}\hsh{90,127}{101,133}\wdg{73,137}{73,150}\hsh{90,107}{100,98}
		\draw[bond] (100,96)--(205,96);
		\pho{126}{96}{76}{131}{116}{OH}\pho{165}{96}{76}{170}{116}{OH}
		\wdg{222,102}{205,96}
		\draw[bond] (238,91)--(222,102)--(230,121)--(248,121)--(254,102)--cycle;
		\wdg{254,102}{264,80}\hsh{230,121}{221,130}\hsh{248,121}{257,130}
		\draw[bond] (231,34)--(231,24);
		\adenup{231}{34}{.78}
		\atm{18}{108}{HO}\atm{73}{96}{O}\atm{33}{135}{HO}\atm{111}{135}{OH}\atm{78}{155}{OH}\atm{106}{96}{O}\atm{146}{96}{O}\atm{185}{96}{O}\atm{238}{91}{O}\atm{212}{136}{HO}\atm{265}{136}{OH}\atm{239}{16}{NH\textsubscript{2}}
	}
	\cpd{c00103}{C00103}{5.6}{4552.7}{168.4}{4683.3}
	\mol{c00103}{
		\draw[bond] (19,50)--(40,36);
		\wdg{57,46}{40,36}
		\draw[bond] (73,36)--(57,46)--(57,66)--(73,75)--(91,66)--(91,46)--cycle;
		\hsh{57,66}{45,72}\hsh{91,66}{102,72}\wdg{73,75}{73,88}\hsh{91,46}{101,38}
		\draw[bond] (103,36)--(128,36) (128,16)--(128,57) ;
		\draw[bond,dbl] (128,36)--(146,36);
		\atm{19}{50}{HO}\atm{73}{36}{O}\atm{34}{75}{HO}\atm{113}{75}{OH}\atm{79}{95}{OH}\atm{108}{36}{O}\atm{128}{36}{P}\atm{146}{36}{O}\atm{133}{16}{OH}\atm{133}{57}{OH}
	}

	% edges
	\draw[arr] (c00117) -- (r01056);
	\draw[arr] (c00117.-135) .. controls (310,170) and (267,290) .. (267,500) .. controls (267,1500) and (267,2600) .. (270,3100) .. controls (272,3300) and (290,3450) .. (r01049.114);
	\draw[arr] (r01056) -- (c00199);
	\draw[arr] (c00199) -- (r07281);
	\draw[arr] (c00199) -- (r01529);
	\draw[arr] (r07281.-157) .. controls (655,460) and (605,505) .. (c00058.72);
	\draw[arr] (r07281.-12) .. controls (880,445) and (960,480) .. (c15556.126);
	\draw[arr] (r01529) -- (c00231);
	\draw[arr] (c00058.-110) .. controls (550,670) and (535,700) .. (r00522.67);
	\draw[arr] (c00058.-75) .. controls (600,690) and (680,745) .. (r00134.168);
	\draw[arr] (c00006) -- (r00134);
	\draw[arr] (c00011a.-78) .. controls (490,670) and (498,710) .. (r00522.99);
	\draw[arr] (r00522) -- (c00209);
	\draw[arr] (r00134) -- (c00005);
	\draw[arr] (r00134.-6) .. controls (900,780) and (975,810) .. (1007.7,840) .. controls (1035,875) and (1045,905) .. (c00011b.98);
	\draw[arr] (c00209) -- (r00466);
	\draw[arr] (c00027a.-79) .. controls (415,1055) and (450,1125) .. (r00466.136);
	\draw[arr] (c00231) -- (r01621);
	\draw[arr] (c00009a.-66) .. controls (1235,670) and (1265,710) .. (r01621.135);
	\draw[arr] (r01621.-142) .. controls (1250,830) and (1225,870) .. (c00001a.77);
	\draw[arr] (r01621) -- (c00227);
	\draw[arr] (r01621.-4) .. controls (1480,778) and (1640,800) .. (1735,840) .. controls (1755,855) and (1775,885) .. (c00118.106);
	\draw[arr] (c00227.-70) .. controls (1360,1085) and (1420,1140) .. (r07226.161);
	\draw[arr] (c00343.-73) .. controls (1500,1070) and (1515,1120) .. (r07226.105);
	\draw[arr] (c00014a.-107) .. controls (1570,1060) and (1550,1120) .. (r07226.70);
	\draw[arr] (c00001b.-102) .. controls (1670,1080) and (1620,1130) .. (r07226.23);
	\draw[arr] (r07226) -- (c00009b);
	\draw[arr] (r07226) -- (c00037);
	\draw[arr] (r07226) -- (c00342);
	\draw[arr] (c00037) -- (r05704);
	\draw[arr] (blanka) -- (r05704);
	\draw[arr] (r05704) -- (blankb);
	\draw[arr] (r05704) -- (c01326);
	\draw[arr] (r05704) -- (c00011d);
	\draw[arr] (r00466) -- (c00001c);
	\draw[arr] (r00466) -- (c00048);
	\draw[arr] (r00466.-4) .. controls (620,1190) and (720,1215) .. (795,1250) .. controls (810,1258) and (820,1270) .. (c00007a.125);
	\draw[arr] (c00086.-44) .. controls (430,1378) and (470,1400) .. (r00776.155);
	\draw[arr] (c00048) -- (r00776);
	\draw[arr] (c00048) -- (r00469);
	\draw[arr] (c00014b) -- (r00469);
	\draw[arr] (c00011c) -- (r00469);
	\draw[arr] (r00776) -- (c00603);
	\draw[arr] (r00469) -- (c00603);
	\draw[arr] (r00469) -- (c00001d);
	\draw[arr] (c00603) -- (r05554);
	\draw[arr] (c00014c) -- (r05554);
	\draw[arr] (r05554) -- (c00001e);
	\draw[arr] (r05554) -- (c02091);
	\draw[arr] (c02091) -- (r02423);
	\draw[arr] (c00011e) -- (r02423);
	\draw[arr] (c00014d) -- (r02423);
	\draw[arr] (r02423) -- (c00001f);
	\draw[arr] (r02423) -- (c00499);
	\draw[arr] (c00499) -- (r02425);
	\draw[arr] (r02425) -- (c02350);
	\draw[arr] (r02425.-14) .. controls (1050,2198) and (1100,2222) .. (1136.5,2246.4) .. controls (1148,2255) and (1158,2268) .. (c00001g.120);
	\draw[arr] (c02350) -- (r06064);
	\draw[arr] (c00011g) -- (r06064);
	\draw[arr] (c00011f) -- (r06063);
	\draw[arr] (c02348) -- (r06063);
	\draw[arr] (r06063) -- (c00001h);
	\draw[arr] (r06063) -- (c00080a);
	\draw[arr] (r06063) -- (c11821);
	\draw[arr] (r06064) -- (c11821);
	\draw[arr] (r06064) -- (c00080b);
	\draw[arr] (r06064) -- (c00001i);
	\draw[arr] (c11821) -- (r02106);
	\draw[arr] (c00027b) -- (r02106);
	\draw[arr] (r02106) -- (c00001j);
	\draw[arr] (r02106) -- (c00366);
	\draw[arr] (r02106.-9) .. controls (1110,2720) and (1190,2742) .. (1243.7,2770) .. controls (1255,2777) and (1268,2790) .. (c00007b.128);
	\draw[arr] (c00366) -- (r02107);
	\draw[arr] (c00027c) -- (r02107);
	\draw[arr] (r02107.-176) .. controls (1050,2960) and (880,2975) .. (789.6,3000) .. controls (760,3008) and (720,3025) .. (c00385.56);
	\draw[arr] (r02107) -- (c00007c);
	\draw[arr] (r02107) -- (c00001k);
	\draw[arr] (c00385.-55) .. controls (730,3200) and (840,3240) .. (r01768.176);
	\draw[arr] (c00004.-56) .. controls (960,3210) and (972,3225) .. (r01768.127);
	\draw[arr] (c00080c.-116) .. controls (1075,3180) and (1045,3210) .. (r01768.48);
	\draw[arr] (r01768.-170) .. controls (880,3290) and (790,3320) .. (c00262.57);
	\draw[arr] (r01768) -- (c00003);
	\draw[arr] (r01768.-8) .. controls (1100,3285) and (1215,3320) .. (c00001l.111);
	\draw[arr] (c00262) -- (r01244);
	\draw[arr] (c00014e.-117) .. controls (800,3500) and (770,3530) .. (r01244.44);
	\draw[arr] (c00002a) -- (r01049);
	\draw[arr] (r01049) -- (c00119);
	\draw[arr] (r01049) -- (c00020);
	\draw[arr] (r01244) -- (c00147);
	\draw[arr] (r01244) -- (c00001m);
	\draw[arr] (c00119) -- (r00190);
	\draw[arr] (c00147.-134) .. controls (585,3778) and (545,3800) .. (r00190.30);
	\draw[arr] (r00190) -- (c00020);
	\draw[arr] (r00190.-78) .. controls (495,3930) and (520,4010) .. (c00013.104);
	\draw[arr] (c00020) -- (r00951);
	\draw[arr] (r00951) -- (c00498);
	\draw[arr] (r00951.-24) .. controls (380,4170) and (440,4225) .. (c00001n.110);
	\draw[arr] (c00103.101) .. controls (62,4470) and (60,4360) .. (94.4,4250) .. controls (110,4200) and (170,4160) .. (r00951.-163);
	\draw[arr] (c00498) -- (r00948);
	\draw[arr] (c00013.-76) .. controls (565,4230) and (568,4340) .. (515.3,4418) .. controls (490,4440) and (420,4450) .. (r00948.12);
	\draw[arr] (r00948) -- (c00103);
	\draw[arr] (r00948) -- (c00002b);
\end{tikzpicture}
\end{document}
